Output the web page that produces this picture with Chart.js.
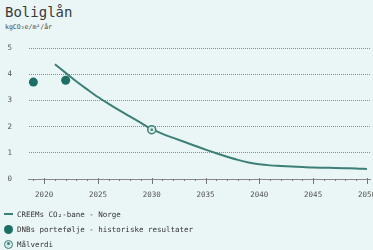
<!DOCTYPE html>
<html><head><meta charset="utf-8">
<script src="https://cdn.jsdelivr.net/npm/chart.js@4/dist/chart.umd.min.js"></script>
<style>
html,body{margin:0;padding:0;background:#eaf6f5;width:373px;height:250px;overflow:hidden;font-family:"DejaVu Sans Mono",monospace;}
#wrap{position:absolute;left:0;top:0;width:388px;height:212px;}
#title{position:absolute;left:5px;top:4px;font-size:14px;color:#3a3a3a;}
#sub{position:absolute;left:5px;top:23px;font-size:6.5px;color:#444;}
.lg{position:absolute;left:4px;font-size:7.5px;color:#333;display:flex;align-items:center;height:10px;}
.lg .m{display:inline-block;width:13px;}
</style></head>
<body>
<div id="title">Boliglån</div>
<div id="sub">kgCO₂e/m²/år</div>
<div id="wrap"><canvas id="c" width="388" height="212"></canvas></div>
<div class="lg" style="top:209px"><span class="m"><span style="display:block;width:9px;height:2px;background:#3c7f77"></span></span>CREEMs CO₂-bane - Norge</div>
<div class="lg" style="top:224px"><span class="m"><span style="display:block;width:9px;height:9px;border-radius:50%;background:#1d6f66"></span></span>DNBs portefølje - historiske resultater</div>
<div class="lg" style="top:239px"><span class="m"><span style="display:block;box-sizing:border-box;width:9px;height:9px;border-radius:50%;border:1.5px solid #3c7f77;background:#d7ecea;position:relative"><span style="position:absolute;left:1.5px;top:1.5px;width:3px;height:3px;border-radius:50%;background:#3c7f77"></span></span></span>Målverdi</div>
<script>
const pathYears = [2021,2022,2023,2024,2025,2026,2027,2028,2029,2030,2031,2032,2033,2034,2035,2036,2037,2038,2039,2040,2041,2042,2043,2044,2045,2046,2047,2048,2049,2050];
const pathValues = [4.38,4.05,3.72,3.42,3.13,2.87,2.62,2.38,2.14,1.9,1.72,1.57,1.42,1.27,1.12,0.98,0.85,0.73,0.63,0.56,0.52,0.5,0.48,0.46,0.44,0.43,0.42,0.41,0.4,0.38];
const histYears = [2019,2022];
const histValues = [3.7,3.77];
const targetYears = [2030];
const targetValues = [1.88];
const xTickLabels = [2020,2025,2030,2035,2040,2045,2050];
const yTickLabels = [0,1,2,3,4,5];

const toXY = (xs, ys) => xs.map((x,i)=>({x, y: ys[i]}));
const tickFont = {family:"DejaVu Sans Mono", size:7.5};

const minorTicks = {
  id:'minorTicks',
  afterDraw(chart){
    const {ctx, scales:{x,y}} = chart;
    const y0 = y.getPixelForValue(0);
    ctx.save();
    ctx.strokeStyle = '#777';
    ctx.lineWidth = 1;
    for(let yr=2019; yr<=2050; yr++){
      const px = Math.round(x.getPixelForValue(yr))+0.5;
      const major = xTickLabels.includes(yr);
      ctx.beginPath();
      ctx.moveTo(px, y0 - (major?1:0));
      ctx.lineTo(px, y0 + (major?5:2));
      ctx.stroke();
    }
    ctx.restore();
  }
};

new Chart(document.getElementById('c'), {
  type:'scatter',
  data:{datasets:[
    {label:'CREEMs CO₂-bane - Norge', data: toXY(pathYears,pathValues), showLine:true, borderColor:'#3c7f77', borderWidth:2, pointRadius:0, cubicInterpolationMode:'monotone', order:3},
    {label:'DNBs portefølje - historiske resultater', data: toXY(histYears,histValues), pointRadius:4.5, backgroundColor:'#1d6f66', borderWidth:0, order:2},
    {label:'Målverdi', data: toXY(targetYears,targetValues), pointRadius:4, backgroundColor:'#d7ecea', borderColor:'#3c7f77', borderWidth:1.5, order:1},
    {label:'Målverdi-sentrum', data: toXY(targetYears,targetValues), pointRadius:1.3, backgroundColor:'#3c7f77', borderWidth:0, order:0}
  ]},
  options:{
    responsive:false, animation:false,
    layout:{padding:{top:48,left:0,right:0,bottom:0}},
    plugins:{legend:{display:false}, tooltip:{enabled:false}},
    scales:{
      x:{type:'linear', min:2018.5, max:2050.3,
        afterBuildTicks(s){ s.ticks = xTickLabels.map(v=>({value:v})); },
        ticks:{font:tickFont, color:'#555', padding:12, maxRotation:0, autoSkip:false, callback:v=>String(v)},
        grid:{display:false, drawTicks:false},
        border:{display:true, color:'#888', width:1}
      },
      y:{min:0, max:5,
        afterBuildTicks(s){ s.ticks = yTickLabels.map(v=>({value:v})); },
        afterFit(s){ s.width = 28; },
        ticks:{font:tickFont, color:'#555', padding:16},
        grid:{color:(c)=>c.tick && c.tick.value===0 ? 'rgba(0,0,0,0)' : '#86918f', lineWidth:1, drawTicks:false},
        border:{display:true, color:'rgba(0,0,0,0)', dash:[1,1]}
      }
    }
  },
  plugins:[minorTicks]
});
</script>
</body></html>
